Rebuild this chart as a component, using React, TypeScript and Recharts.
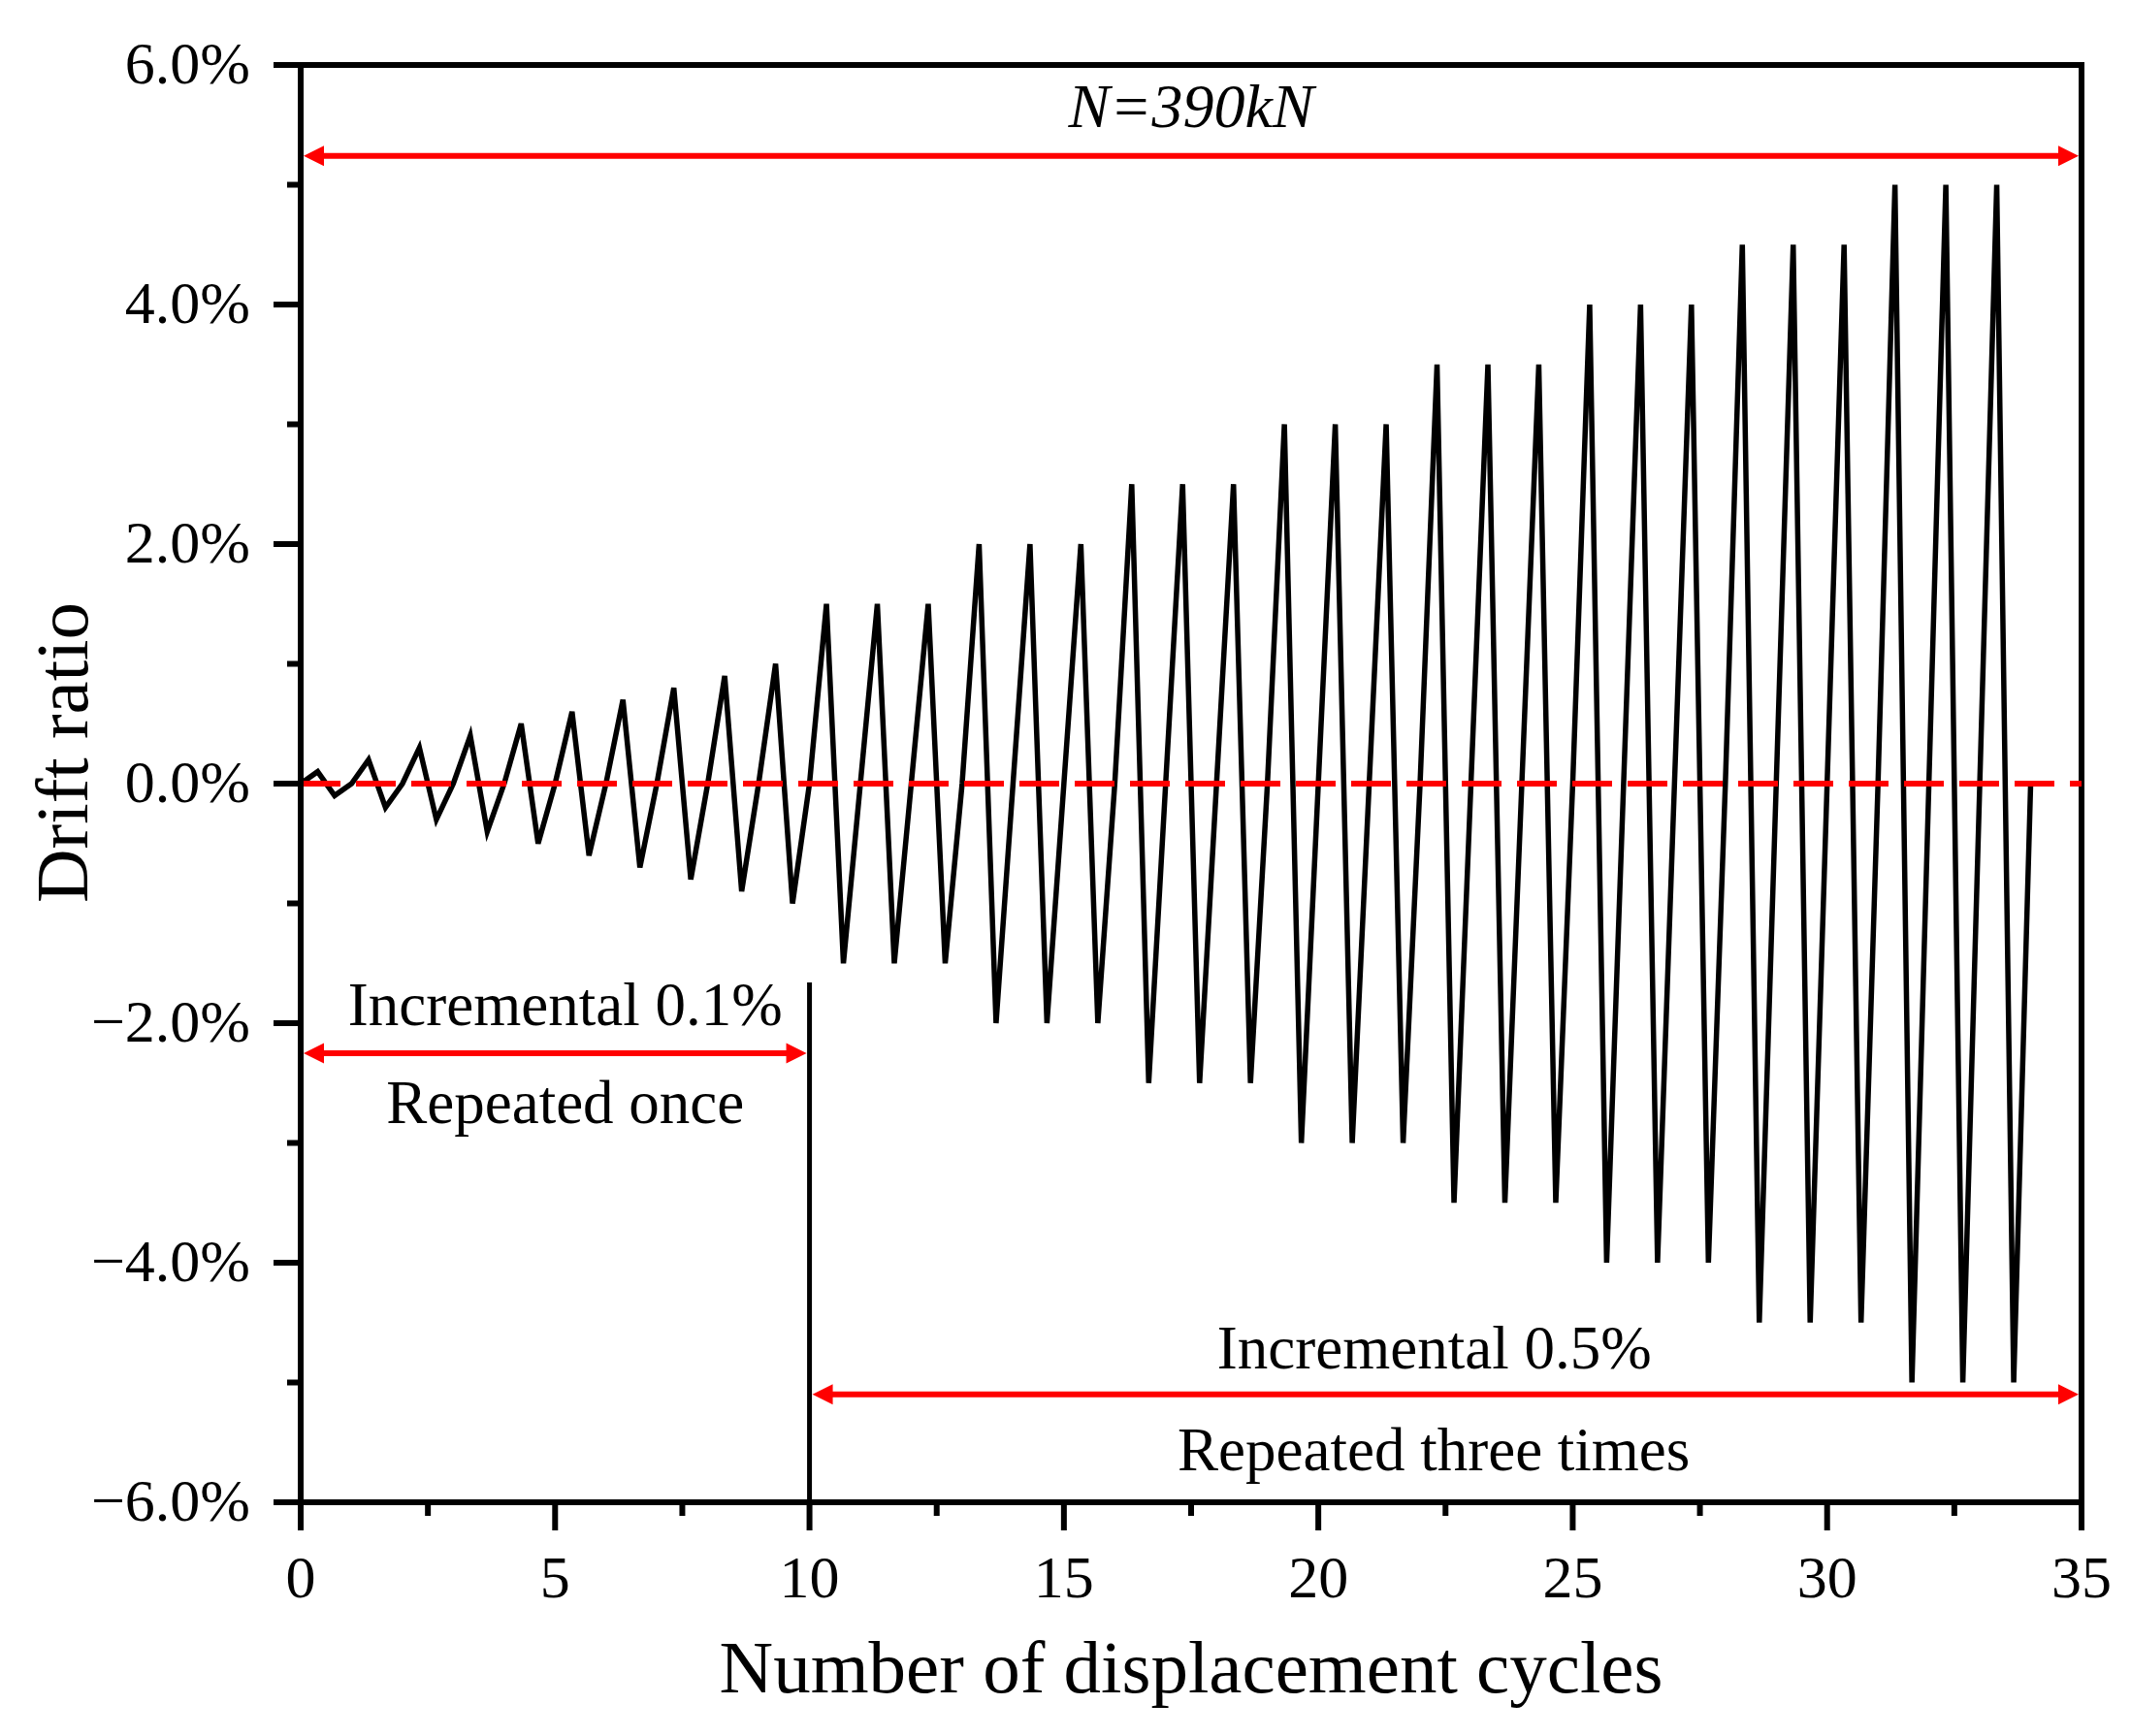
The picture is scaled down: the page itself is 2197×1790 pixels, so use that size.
import { LineChart, Line, XAxis, YAxis, ReferenceLine, ReferenceDot, Label } from 'recharts';

// ─── Style constants ───
const FONT = '"Times New Roman", "Liberation Serif", serif';
const RED = '#ff0000';
const BLACK = '#000';
const AXIS_W = 6;

// ─── Loading protocol: drift amplitude (%) of each displacement cycle ───
const phase1Amplitudes = [0.1, 0.2, 0.3, 0.4, 0.5, 0.6, 0.7, 0.8, 0.9, 1.0];
const phase2Amplitudes = [
  1.5, 1.5, 1.5, 2.0, 2.0, 2.0, 2.5, 2.5, 2.5, 3.0, 3.0, 3.0,
  3.5, 3.5, 3.5, 4.0, 4.0, 4.0, 4.5, 4.5, 4.5, 5.0, 5.0, 5.0,
];
// where the positive / negative peak falls inside one cycle
const PEAK_OFFSET = 1 / 3;
const VALLEY_OFFSET = 2 / 3;

// ─── Axis ticks ───
const xTicks = [0, 2.5, 5, 7.5, 10, 12.5, 15, 17.5, 20, 22.5, 25, 27.5, 30, 32.5, 35];
const yTicks = [-6, -5, -4, -3, -2, -1, 0, 1, 2, 3, 4, 5, 6];

// ─── Annotations ───
const arrows = [
  { from: 0, to: 35, y: 5.24 },
  { from: 0, to: 10, y: -2.25 },
  { from: 10, to: 35, y: -5.1 },
];
const dividerLine = [{ x: 10, y: -1.66 }, { x: 10, y: -6 }];
const notes = [
  { x: 17.5, y: 5.48, text: 'N=390kN', italic: true, size: 64 },
  { x: 5.2, y: -2.02, text: 'Incremental 0.1%', italic: false, size: 63 },
  { x: 5.2, y: -2.83, text: 'Repeated once', italic: false, size: 63 },
  { x: 22.28, y: -4.88, text: 'Incremental 0.5%', italic: false, size: 63 },
  { x: 22.27, y: -5.73, text: 'Repeated three times', italic: false, size: 63 },
];

// ─── Build the drift history ───
const cycleAmplitudes = [...phase1Amplitudes, ...phase2Amplitudes];
const driftData: { cycle: number; drift: number }[] = [];
cycleAmplitudes.forEach((amp, i) => {
  driftData.push({ cycle: i, drift: 0 });
  driftData.push({ cycle: i + PEAK_OFFSET, drift: amp });
  driftData.push({ cycle: i + VALLEY_OFFSET, drift: -amp });
});
driftData.push({ cycle: cycleAmplitudes.length, drift: 0 });

const fmtPct = (v: number) => (v < 0 ? `\u2212${Math.abs(v).toFixed(1)}%` : `${v.toFixed(1)}%`);

// ─── Custom ticks: major + minor tick marks drawn outward ───
const XTick = ({ x, y, payload }: any) => {
  const major = payload.value % 5 === 0;
  return (
    <g>
      <line x1={x} x2={x} y1={y} y2={y + (major ? 29 : 14)} stroke={BLACK} strokeWidth={AXIS_W} />
      {major && (
        <text x={x} y={y + 98} textAnchor="middle" fontSize={62} fontFamily={FONT} fill={BLACK}>
          {payload.value}
        </text>
      )}
    </g>
  );
};

const YTick = ({ x, y, payload }: any) => {
  const major = payload.value % 2 === 0;
  return (
    <g>
      <line x1={x - (major ? 28 : 14)} x2={x} y1={y} y2={y} stroke={BLACK} strokeWidth={AXIS_W} />
      {major && (
        <text x={x - 52} y={y + 19} textAnchor="end" fontSize={62} fontFamily={FONT} fill={BLACK}>
          {fmtPct(payload.value)}
        </text>
      )}
    </g>
  );
};

// ─── Double-headed red arrow ───
const ArrowShape = ({ x1, y1, x2 }: any) => {
  const l = Math.min(x1, x2) + 3;
  const r = Math.max(x1, x2) - 3;
  const y = y1;
  return (
    <g>
      <line x1={l + 10} x2={r - 10} y1={y} y2={y} stroke={RED} strokeWidth={6} />
      <polygon points={`${l},${y} ${l + 21},${y - 10.5} ${l + 21},${y + 10.5}`} fill={RED} />
      <polygon points={`${r},${y} ${r - 21},${y - 10.5} ${r - 21},${y + 10.5}`} fill={RED} />
    </g>
  );
};

export default function App() {
  return (
    <div style={{ position: 'absolute', left: 0, top: 0, width: 2197, height: 1790, background: '#fff' }}>
      <LineChart
        width={2197}
        height={1790}
        data={driftData}
        margin={{ top: 67, right: 51, bottom: 121, left: 110 }}
      >
        <XAxis
          dataKey="cycle"
          type="number"
          domain={[0, 35]}
          ticks={xTicks}
          interval={0}
          height={120}
          tickSize={0}
          tickMargin={0}
          tickLine={false}
          tick={(p: any) => <XTick {...p} />}
          axisLine={{ stroke: BLACK, strokeWidth: AXIS_W, strokeLinecap: 'square' }}
        >
          <Label
            content={({ viewBox }: any) => {
              const vb = viewBox || { x: 310, y: 1549, width: 1836 };
              return (
                <text x={vb.x + vb.width / 2} y={vb.y + 196} textAnchor="middle" fontSize={77} fontFamily={FONT} fill={BLACK}>
                  Number of displacement cycles
                </text>
              );
            }}
          />
        </XAxis>
        <YAxis
          type="number"
          domain={[-6, 6]}
          ticks={yTicks}
          interval={0}
          width={200}
          tickSize={0}
          tickMargin={0}
          tickLine={false}
          tick={(p: any) => <YTick {...p} />}
          axisLine={{ stroke: BLACK, strokeWidth: AXIS_W, strokeLinecap: 'square' }}
        >
          <Label
            content={({ viewBox }: any) => {
              const vb = viewBox || { x: 110, y: 67, width: 200, height: 1482 };
              const cx = vb.x - 20;
              const cy = vb.y + vb.height / 2 - 32;
              return (
                <text x={cx} y={cy} transform={`rotate(-90, ${cx}, ${cy})`} textAnchor="middle" fontSize={77} fontFamily={FONT} fill={BLACK}>
                  Drift ratio
                </text>
              );
            }}
          />
        </YAxis>

        {/* frame */}
        <ReferenceLine y={6} stroke={BLACK} strokeWidth={AXIS_W} strokeLinecap="square" ifOverflow="visible" />
        <ReferenceLine x={35} stroke={BLACK} strokeWidth={AXIS_W} strokeLinecap="square" ifOverflow="visible" />

        <Line
          type="linear"
          dataKey="drift"
          stroke={BLACK}
          strokeWidth={5.5}
          dot={false}
          activeDot={false}
          isAnimationActive={false}
        />

        {/* zero line */}
        <ReferenceLine y={0} stroke={RED} strokeWidth={6} strokeDasharray="41 16" ifOverflow="visible" />

        {/* phase divider */}
        <ReferenceLine segment={dividerLine} stroke={BLACK} strokeWidth={5} ifOverflow="visible" />

        {arrows.map((a, i) => (
          <ReferenceLine
            key={`arrow-${i}`}
            segment={[{ x: a.from, y: a.y }, { x: a.to, y: a.y }]}
            shape={(p: any) => <ArrowShape {...p} />}
            ifOverflow="visible"
          />
        ))}

        {notes.map((n, i) => (
          <ReferenceDot
            key={`note-${i}`}
            x={n.x}
            y={n.y}
            r={1}
            ifOverflow="visible"
            shape={(p: any) => (
              <text
                x={p.cx}
                y={p.cy}
                textAnchor="middle"
                fontSize={n.size}
                fontStyle={n.italic ? 'italic' : 'normal'}
                fontFamily={FONT}
                fill={BLACK}
              >
                {n.text}
              </text>
            )}
          />
        ))}
      </LineChart>
    </div>
  );
}
